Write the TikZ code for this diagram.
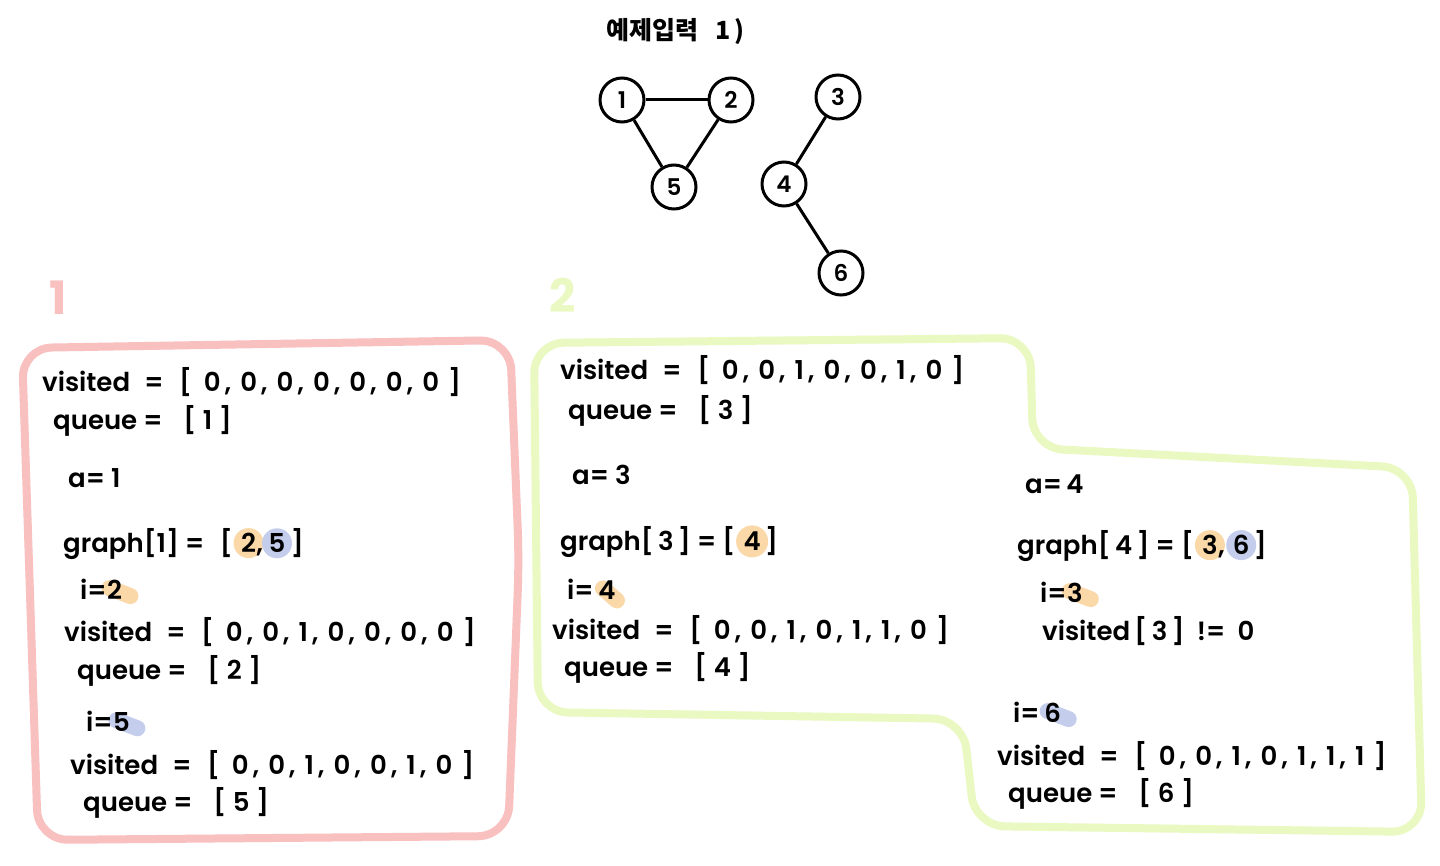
\documentclass[tikz,border=0pt]{standalone}
\usepackage{fontspec}
\setmainfont{Poppins SemiBold}
\newfontfamily\labfont{Poppins Bold}
\newfontfamily\kor{Noto Sans CJK KR}
\usetikzlibrary{backgrounds}
\definecolor{pinkc}{RGB}{249,192,192}
\definecolor{greenc}{RGB}{234,248,194}
\definecolor{hlorange}{RGB}{251,216,168}
\definecolor{hlblue}{RGB}{197,205,236}
\newcommand\hand{\fontsize{26}{30}\selectfont}
\newcommand\sep{\kern0.15em,\kern0.35em}
\newcommand\vis{visited\kern0.55em=\kern0.6em}
\newcommand\arr[7]{[\kern0.45em#1\sep#2\sep#3\sep#4\sep#5\sep#6\sep#7\kern0.35em]}
\newcommand\one[1]{[\kern0.25em#1\kern0.25em]}
\begin{document}
\begin{tikzpicture}[x=1pt,y=-1pt,
  txt/.style={inner sep=0pt, font=\hand, anchor=mid west, yshift=-7pt},
  nxt/.style={inner sep=0pt, font=\hand, anchor=base west},
  vtx/.style={circle, draw, line width=3pt, minimum size=44pt, inner sep=0pt, font=\fontsize{23}{23}\selectfont},
  edgeline/.style={line width=3pt},
  boxpink/.style={draw=pinkc, line width=8pt, rounded corners=30pt, line join=round},
  boxgreen/.style={draw=greenc, line width=8pt, rounded corners=30pt, line join=round},
  smo/.style={draw=hlorange, line width=16pt, line cap=round},
  smb/.style={draw=hlblue, line width=16pt, line cap=round},
  lab/.style={font=\labfont\fontsize{46}{46}\selectfont, inner sep=0pt}]
\useasboundingbox (0,0) rectangle (1440,866);
\begin{scope}[on background layer]
\fill[white] (0,0) rectangle (1440,866);
\end{scope}

% title and graph
\node[font=\kor\bfseries\fontsize{25}{25}\selectfont, anchor=mid west, inner sep=0pt] (title) at (606,37) {예제입력\ \ \ 1\,)};
\node[vtx] (n1) at (622,100) {1};
\node[vtx] (n2) at (731,100) {2};
\node[vtx] (n5) at (674,187) {5};
\node[vtx] (n3) at (838,97) {3};
\node[vtx] (n4) at (784,184) {4};
\node[vtx] (n6) at (841,273) {6};
\draw[edgeline] (n1) -- (n2);
\draw[edgeline] (n1) -- (n5);
\draw[edgeline] (n2) -- (n5);
\draw[edgeline] (n3) -- (n4);
\draw[edgeline] (n4) -- (n6);

% boxes
\node[lab, text=pinkc] (lab1) at (58,298) {1};
\node[lab, text=greenc] (lab2) at (563,295) {2};
\draw[boxpink] (22,348) -- (510,340) -- (519,560) -- (508,836) -- (38,840) -- cycle;
\draw[boxgreen] (534,343) -- (1030,338) -- (1033,448) -- (1412,468) -- (1422,832) -- (975,826) -- (963,719) -- (538,712) -- cycle;

% box 1 text
\node[txt] (v1a) at (42,382) {\vis\arr0000000};
\node[txt] (q1a) at (53,420) {queue =\kern0.8em\one1};
\node[txt] (a1) at (68,478) {a=\ 1};
\node[txt] (g1) at (63,543) {graph[1] =\kern0.6em[\kern0.3em};
\node[nxt] (g1x) at (g1.base east) {2};
\node[nxt] (g1c) at (g1x.base east) {,\kern0.2em};
\node[nxt] (g1y) at (g1c.base east) {5};
\node[nxt] (g1e) at (g1y.base east) {\kern0.2em]};
\node[txt] (i1) at (80,590) {i=};
\node[nxt] (i1x) at (i1.base east) {2};
\node[txt] (v1b) at (64,632) {\vis\arr0010000};
\node[txt] (q1b) at (77,670) {queue =\kern0.8em\one2};
\node[txt] (i2) at (86,722) {i=};
\node[nxt] (i2x) at (i2.base east) {5};
\node[txt] (v1c) at (70,765) {\vis\arr0010010};
\node[txt] (q1c) at (83,802) {queue =\kern0.8em\one5};

% box 2 text
\node[txt] (v2a) at (560,370) {\vis\arr0010010};
\node[txt] (q2a) at (568,410) {queue =\kern0.8em\one3};
\node[txt] (a2) at (572,475) {a=\ 3};
\node[txt] (g2) at (560,541) {graph[\,3\,] = [\kern0.3em};
\node[nxt] (g2x) at (g2.base east) {4};
\node[nxt] (g2e) at (g2x.base east) {\kern0.15em]};
\node[txt] (i3) at (567,590) {i=\,};
\node[nxt] (i3x) at (i3.base east) {4};
\node[txt] (v2b) at (552,630) {\vis\arr0010110};
\node[txt] (q2b) at (564,667) {queue =\kern0.8em\one4};
\node[txt] (a3) at (1025,484) {a=\,4};
\node[txt] (g3) at (1017,545) {graph[\,4\,] = [\kern0.3em};
\node[nxt] (g3x) at (g3.base east) {3};
\node[nxt] (g3c) at (g3x.base east) {,\kern0.3em};
\node[nxt] (g3y) at (g3c.base east) {6};
\node[nxt] (g3e) at (g3y.base east) {\kern0.15em]};
\node[txt] (i4) at (1040,593) {i=\ };
\node[nxt] (i4x) at (i4.base east) {3};
\node[txt] (vc) at (1042,631) {visited\,[\,3\,]\ \ !=\ \ 0};
\node[txt] (i5) at (1013,713) {i=\,};
\node[nxt] (i5x) at (i5.base east) {6};
\node[txt] (v2c) at (997,756) {\vis\arr0010111};
\node[txt] (q2c) at (1008,793) {queue =\kern0.8em\one6};

% highlights
\begin{scope}[on background layer]
\fill[hlorange] (g1x.center) circle (15pt);
\fill[hlblue] (g1y.center) circle (15pt);
\fill[hlorange] (g2x.center) circle (16pt);
\fill[hlorange] (g3x.center) circle (15pt);
\fill[hlblue] (g3y.center) circle (15pt);
\draw[smo] ([xshift=-5pt,yshift=2pt]i1x.center) -- ([xshift=16pt,yshift=-6pt]i1x.center);
\draw[smb] ([xshift=-5pt,yshift=2pt]i2x.center) -- ([xshift=16pt,yshift=-6pt]i2x.center);
\draw[smo] ([xshift=-4pt,yshift=2pt]i3x.center) -- ([xshift=10pt,yshift=-10pt]i3x.center);
\draw[smo] ([xshift=-5pt,yshift=2pt]i4x.center) -- ([xshift=16pt,yshift=-6pt]i4x.center);
\draw[smb] ([xshift=-5pt,yshift=2pt]i5x.center) -- ([xshift=16pt,yshift=-6pt]i5x.center);
\end{scope}
\end{tikzpicture}
\end{document}
